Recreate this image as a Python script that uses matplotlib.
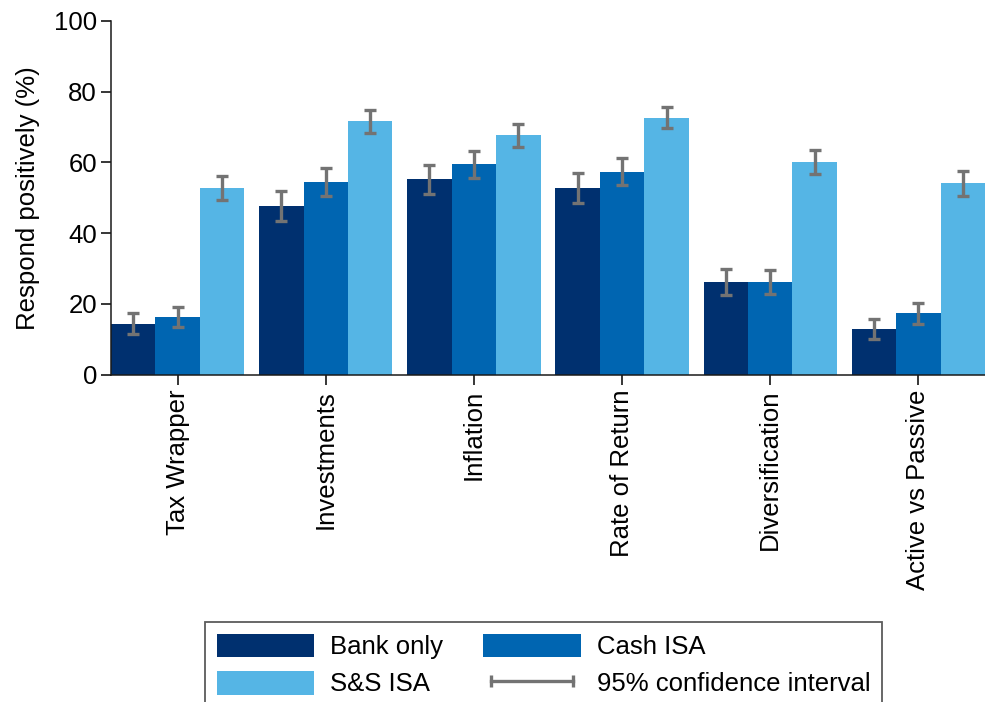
import matplotlib
matplotlib.use("Agg")
import matplotlib.pyplot as plt
from matplotlib.patches import Patch
from matplotlib.lines import Line2D
import numpy as np

plt.rcParams['font.family'] = ['Liberation Sans', 'DejaVu Sans']

# Topics and share of respondents answering positively (%)
topics = ['Tax Wrapper', 'Investments', 'Inflation', 'Rate of Return',
          'Diversification', 'Active vs Passive']
bank_only = [14.4, 47.6, 55.2, 52.8, 26.2, 12.9]
cash_isa = [16.2, 54.4, 59.5, 57.4, 26.2, 17.3]
ss_isa = [52.7, 71.6, 67.7, 72.7, 60.0, 54.1]

# Half-widths of the 95% confidence intervals
bank_ci = [3.0, 4.2, 4.2, 4.2, 3.7, 2.8]
cash_ci = [2.8, 3.9, 3.8, 3.9, 3.4, 2.9]
ss_ci = [3.4, 3.2, 3.3, 3.1, 3.4, 3.5]

series = [
    ('Bank only', bank_only, bank_ci, '#00306F'),
    ('Cash ISA', cash_isa, cash_ci, '#0065B1'),
    ('S&S ISA', ss_isa, ss_ci, '#55B5E5'),
]
err_color = '#737373'
fs = 18.5

fig = plt.figure(figsize=(9.85, 7.02), dpi=100)
W, H = 985, 702
ax = fig.add_axes([111 / W, 1 - 374.5 / H, (985 - 111) / W, (374.5 - 21) / H])

x = np.arange(len(topics))
width = 0.3
for i, (name, vals, ci, col) in enumerate(series):
    pos = x + (i - 1) * width
    ax.bar(pos, vals, width=width, color=col, edgecolor='none', zorder=2)
    ax.errorbar(pos, vals, yerr=ci, fmt='none', ecolor=err_color,
                elinewidth=2.4, capsize=4.5, capthick=2.4, zorder=3)

ax.set_xlim(-0.45, 5.45)
ax.set_ylim(0, 100)
ax.set_yticks([0, 20, 40, 60, 80, 100])
ax.set_xticks(x)
ax.set_xticklabels(topics, rotation=90, fontsize=fs)
ax.tick_params(axis='y', labelsize=fs, length=7, width=1.1, direction='out', pad=3)
ax.tick_params(axis='x', length=7, width=1.1, direction='out', pad=4)
ax.set_ylabel('Respond positively (%)', fontsize=fs, labelpad=10)

for side in ['top', 'right']:
    ax.spines[side].set_visible(False)
for side in ['left', 'bottom']:
    ax.spines[side].set_linewidth(1.1)
    ax.spines[side].set_color('#1a1a1a')

handles = [
    Patch(facecolor=series[0][3], label='Bank only'),
    Patch(facecolor=series[2][3], label='S&S ISA'),
    Patch(facecolor=series[1][3], label='Cash ISA'),
    Line2D([0], [0], color=err_color, lw=2.4, marker='|', markersize=9,
           markeredgewidth=2.4, label='95% confidence interval'),
]
leg = fig.legend(handles=handles, ncol=2, loc='upper left',
                 bbox_to_anchor=(205 / W, 1 - 622 / H), fontsize=fs,
                 frameon=True, fancybox=False, edgecolor='#333333',
                 handlelength=3.8, handleheight=1.05, handletextpad=0.62,
                 columnspacing=1.55, labelspacing=0.45, borderpad=0.45,
                 borderaxespad=0, numpoints=2)
leg.get_frame().set_linewidth(1.3)

fig.savefig('out.png', dpi=100)
